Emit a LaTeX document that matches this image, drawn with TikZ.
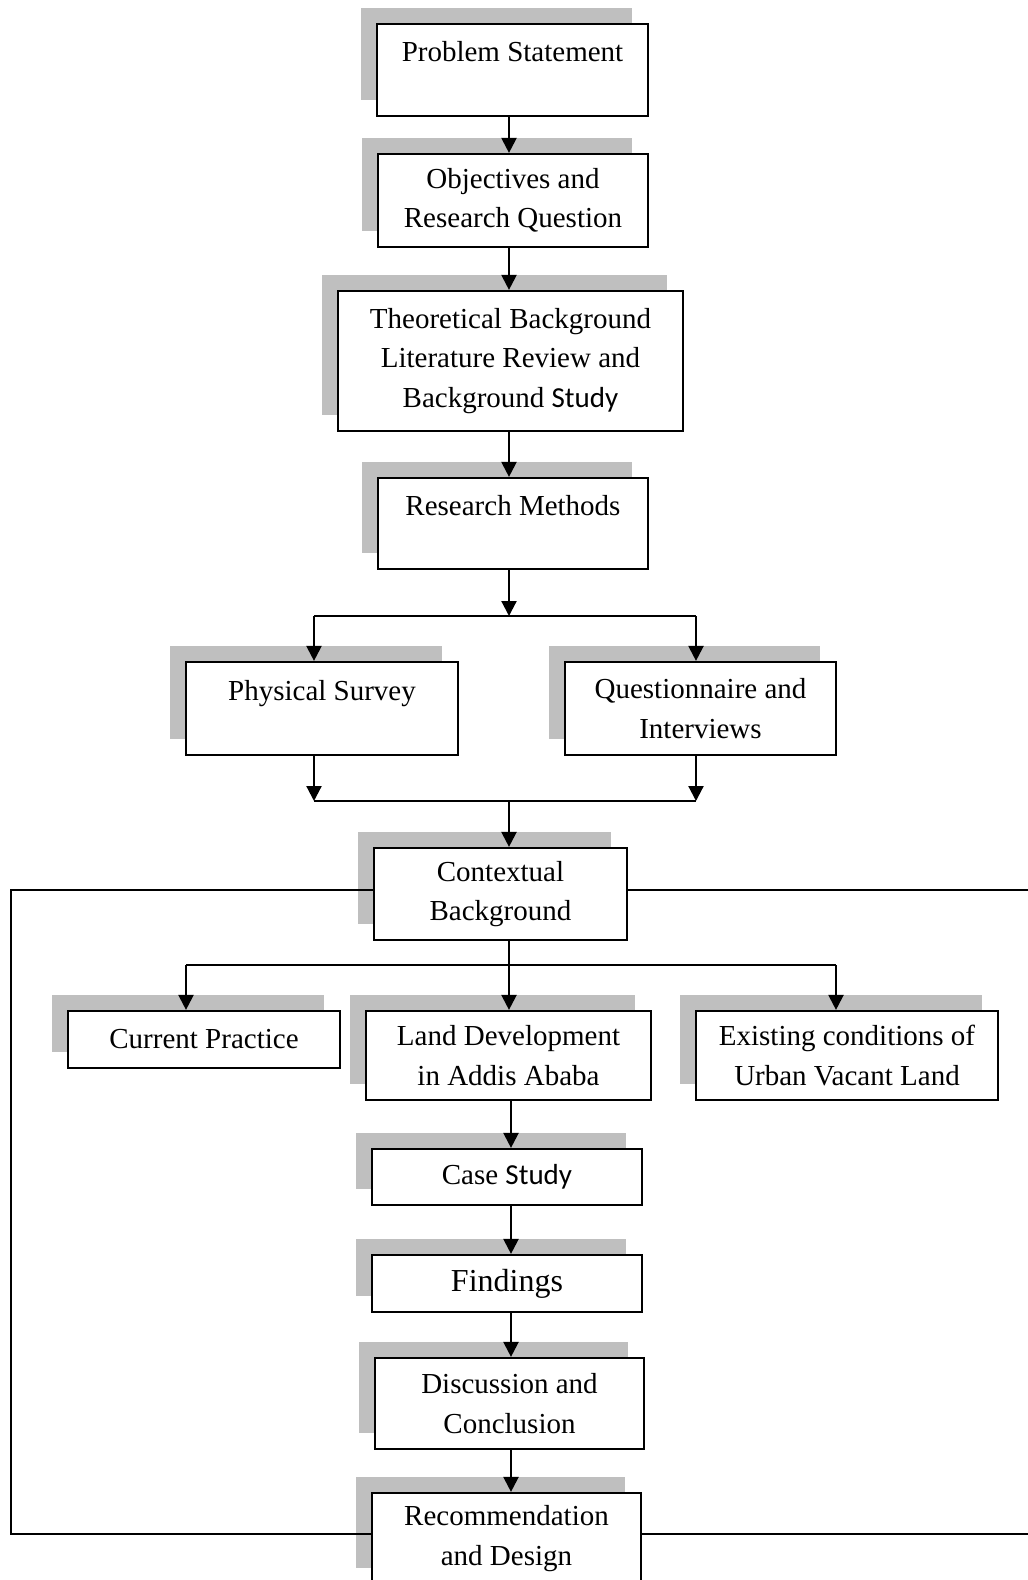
\documentclass[tikz,border=0pt]{standalone}
\usepackage{fontspec}
\setmainfont{Liberation Serif}
\newfontfamily\sansf{Carlito}
\usetikzlibrary{arrows.meta}
\definecolor{shadowc}{HTML}{BFBFBF}
\newcommand\flowbox[6]{%
  \fill[shadowc] ({#2-16},{#3-16}) rectangle ({#4-16},{#5-16});
  \node[boxst, minimum width={#4-#2}, minimum height={#5-#3}] (#1) at ({(#2+#4)/2},{(#3+#5)/2}) {#6};
}
\begin{document}
\begin{tikzpicture}[x=1pt,y=-1pt,
  boxst/.style={draw, fill=white, line width=2.2pt, inner sep=0pt, align=center,
    font=\fontsize{29}{39.5}\selectfont},
  conn/.style={line width=2.2pt},
  arr/.style={line width=2.2pt, -{Triangle[width=15pt,length=15pt]}}]
\useasboundingbox (0,0) rectangle (1028,1580);
\flowbox{ps}{377}{24}{648}{116}{Problem Statement\\[-3pt]\mbox{}}
\flowbox{obj}{378}{154}{648}{247}{Objectives and\\Research Question}
\flowbox{theo}{338}{291}{683}{431}{Theoretical Background\\Literature Review and\\Background {\sansf Study}}
\flowbox{rm}{378}{478}{648}{569}{Research Methods\\[-3pt]\mbox{}}
\flowbox{phys}{186}{662}{458}{755}{Physical Survey\\[-3pt]\mbox{}}
\flowbox{quest}{565}{662}{836}{755}{Questionnaire and\\Interviews}
\flowbox{ctx}{374}{848}{627}{940}{Contextual\\Background}
\flowbox{cur}{68}{1011}{340}{1068}{Current Practice}
\flowbox{land}{366}{1011}{651}{1100}{Land Development\\in Addis Ababa}
\flowbox{exist}{696}{1011}{998}{1100}{Existing conditions of\\Urban Vacant Land}
\flowbox{case}{372}{1149}{642}{1205}{Case {\sansf Study}}
\flowbox{find}{372}{1255}{642}{1312}{\fontsize{32}{39.5}\selectfont Findings}
\flowbox{disc}{375}{1358}{644}{1449}{Discussion and\\Conclusion}
\flowbox{rec}{372}{1493}{641}{1584}{Recommendation\\and Design}
% coordinates
\coordinate (sp) at (509,0);
\coordinate (spb) at (511,0);
\coordinate (s1) at (509,616);
\coordinate (sl) at (314,616);
\coordinate (sr) at (696,616);
\coordinate (m1) at (509,801);
\coordinate (ml) at (314,801);
\coordinate (mr) at (696,801);
\coordinate (c1) at (509,965);
\coordinate (cl) at (186,965);
\coordinate (cr) at (836,965);
\coordinate (fl1) at (11,890);
\coordinate (fl2) at (11,1534);
\coordinate (fr1) at (1028,890);
\coordinate (fr2) at (1028,1534);
% connectors
\draw[arr] (ps.south -| sp) -- (obj.north -| sp);
\draw[arr] (obj.south -| sp) -- (theo.north -| sp);
\draw[arr] (theo.south -| sp) -- (rm.north -| sp);
\draw[arr] (rm.south -| sp) -- (s1);
\draw[conn] (sl) -- (sr);
\draw[arr] (sl) -- (phys.north -| sl);
\draw[arr] (sr) -- (quest.north -| sr);
\draw[arr] (phys.south -| ml) -- (ml);
\draw[arr] (quest.south -| mr) -- (mr);
\draw[conn] (ml) -- (mr);
\draw[arr] (m1) -- (ctx.north -| m1);
\draw[conn] (ctx.south -| c1) -- (c1);
\draw[conn] (cl) -- (cr);
\draw[arr] (cl) -- (cur.north -| cl);
\draw[arr] (c1) -- (land.north -| c1);
\draw[arr] (cr) -- (exist.north -| cr);
\draw[arr] (land.south -| spb) -- (case.north -| spb);
\draw[arr] (case.south -| spb) -- (find.north -| spb);
\draw[arr] (find.south -| spb) -- (disc.north -| spb);
\draw[arr] (disc.south -| spb) -- (rec.north -| spb);
\draw[conn] (ctx.west |- fl1) -- (fl1) -- (fl2) -- (rec.west |- fl2);
\draw[conn] (ctx.east |- fr1) -- (fr1);
\draw[conn] (rec.east |- fr2) -- (fr2);
\end{tikzpicture}
\end{document}
